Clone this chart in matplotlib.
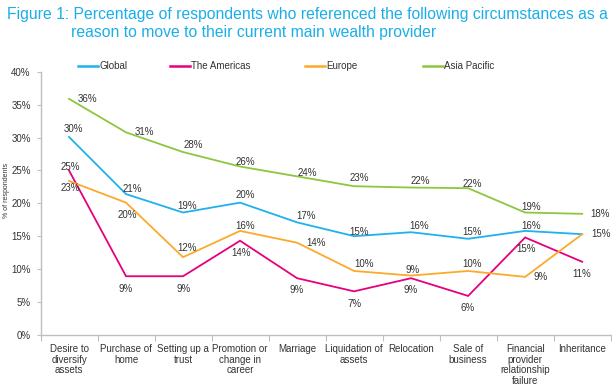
import matplotlib
matplotlib.use("Agg")
import matplotlib.pyplot as plt
from matplotlib.lines import Line2D

plt.rcParams["font.family"] = ["Liberation Sans", "DejaVu Sans"]

# data
categories = [
    "Desire to\ndiversify\nassets", "Purchase of\nhome", "Setting up a\ntrust",
    "Promotion or\nchange in\ncareer", "Marriage", "Liquidation of\nassets",
    "Relocation", "Sale of\nbusiness", "Financial\nprovider\nrelationship\nfailure",
    "Inheritance",
]
series_names = ["Global", "The Americas", "Europe", "Asia Pacific"]
global_vals = [30.1, 21.4, 18.6, 20.1, 17.1, 15.0, 15.6, 14.6, 15.8, 15.3]
americas_vals = [25.0, 8.9, 8.9, 14.3, 8.6, 6.6, 8.6, 5.9, 14.8, 11.1]
europe_vals = [23.4, 20.1, 11.8, 15.8, 14.0, 9.7, 9.0, 9.7, 8.8, 15.3]
asia_vals = [35.9, 30.8, 27.8, 25.6, 24.1, 22.6, 22.4, 22.3, 18.6, 18.4]
y_ticks = [0, 5, 10, 15, 20, 25, 30, 35, 40]

colors = ["#1EB1ED", "#E5007D", "#FBAA2B", "#8DC63F"]

# label offsets in pixels (dx, dy), dy positive = up
off_global = [(4, 8), (6, 5), (4, 7), (5, 8), (9, 6), (5, 4), (8, 6), (4, 7), (6, 5), (19, 0)]
off_americas = [(1, 3), (0, -13), (1, -13), (1, -12), (0, -12), (0, -13), (0, -12), (0, -12), (1, -12), (0, -12)]
off_europe = [(1, -7), (1, -12), (4, 9), (5, 5), (19, 0), (10, 7), (2, 6), (4, 7), (15, 0), (19, 0)]
off_asia = [(18, 0), (18, 0), (10, 7), (5, 5), (10, 3), (5, 8), (9, 7), (4, 4), (6, 6), (18, 0)]

all_vals = [global_vals, americas_vals, europe_vals, asia_vals]
all_offs = [off_global, off_americas, off_europe, off_asia]

fig = plt.figure(figsize=(6.12, 3.86), dpi=100)
ax = fig.add_axes([0.0662, 0.1329, 0.9316, 0.6808])

x = list(range(len(categories)))
for vals, col in zip(all_vals, colors):
    ax.plot(x, vals, color=col, lw=1.3, solid_joinstyle="miter")

drawn = set()
for vals, offs in zip(all_vals, all_offs):
    for i, v in enumerate(vals):
        key = (i, round(v), offs[i])
        if key in drawn:
            continue  # same label on top of another one
        drawn.add(key)
        ax.annotate(f"{round(v)}%", (i, v), xytext=offs[i], textcoords="offset pixels",
                    ha="center", va="center", fontsize=7, color="#333333")

ax.set_xlim(-0.5, len(categories) - 0.5)
ax.set_ylim(0, 40)
ax.set_yticks(y_ticks)
ax.set_yticklabels([f"{t}%" for t in y_ticks])
ax.set_xticks([i - 0.5 for i in range(len(categories) + 1)])
ax.set_xticklabels([])
ax.set_xticks(x, minor=True)
ax.set_xticklabels(categories, minor=True, fontsize=7, color="#333333", linespacing=1.05, va="top")
ax.tick_params(axis="x", which="minor", length=0, pad=7)
ax.tick_params(axis="x", which="major", length=4, color="#BFBFBF", direction="out")
ax.tick_params(axis="y", length=3, color="#BFBFBF", labelsize=7, labelcolor="#333333", pad=4)

for s in ["top", "right"]:
    ax.spines[s].set_visible(False)
for s in ["left", "bottom"]:
    ax.spines[s].set_color("#BFBFBF")
    ax.spines[s].set_linewidth(1.0)

fig.text(7 / 612, 1 - 190 / 386, "% of respondents", rotation=90, ha="center", va="center",
         fontsize=5, color="#333333")

# title
title_color = "#1BAEE8"
fig.text(7 / 612, 1 - 15 / 386, "Figure 1: Percentage of respondents who referenced the following circumstances as a",
         fontsize=11.3, color=title_color, ha="left", va="center")
fig.text(71 / 612, 1 - 32 / 386, "reason to move to their current main wealth provider",
         fontsize=11.3, color=title_color, ha="left", va="center")

# legend
legend_x = [78, 170, 305, 423]
ly = 1 - 66 / 386
for name, col, lx in zip(series_names, colors, legend_x):
    fig.add_artist(Line2D([lx / 612, (lx + 20) / 612], [ly, ly], color=col, lw=1.8))
    fig.text((lx + 21) / 612, ly, name, fontsize=7, color="#333333", ha="left", va="center")

fig.savefig("out.png", dpi=100)
